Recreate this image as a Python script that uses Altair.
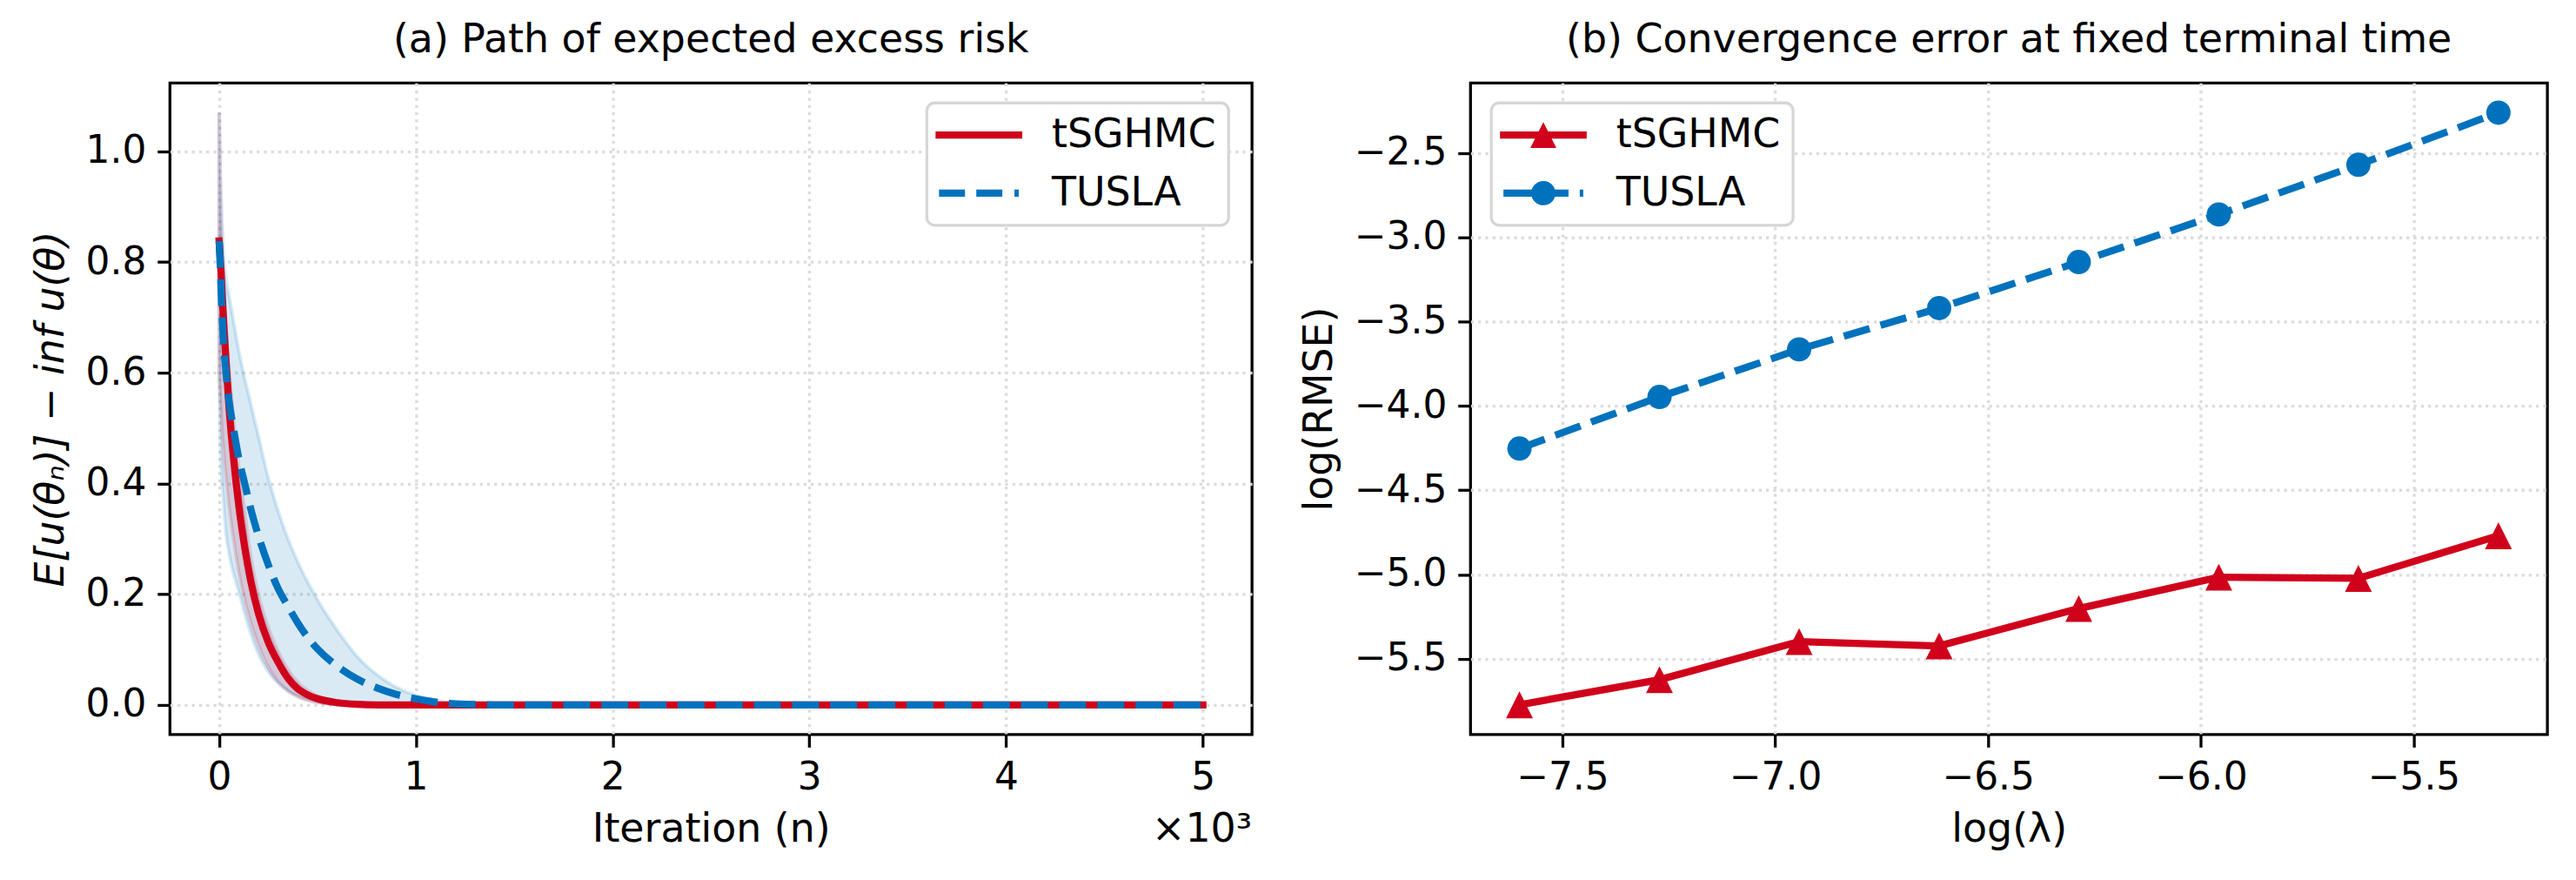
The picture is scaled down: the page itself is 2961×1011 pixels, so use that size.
import altair as alt
import pandas as pd

RED = "#D0021B"
BLUE = "#0072BD"
FONT = "DejaVu Sans"
SERIES = ["tSGHMC", "TUSLA"]

# ---------------- panel (a): path of expected excess risk ----------------
iters = [0, 5, 10, 20, 35, 50, 75, 100, 130, 160, 200, 250, 300, 350, 400, 450,
         500, 600, 700, 800, 900, 1000, 1100, 1200, 1400, 1700, 2000, 3000, 4000, 5000]

tsghmc_mean = [0.838, 0.81, 0.78, 0.71, 0.62, 0.54, 0.44, 0.36, 0.285, 0.225, 0.165, 0.113,
               0.077, 0.048, 0.029, 0.018, 0.011, 0.004, 0.001, 0.0, 0.0, 0.0, 0.0, 0.0,
               0.0, 0.0, 0.0, 0.0, 0.0, 0.0]
tsghmc_hi = [1.07, 0.95, 0.87, 0.78, 0.68, 0.61, 0.51, 0.43, 0.35, 0.27, 0.20, 0.14,
             0.097, 0.064, 0.041, 0.026, 0.016, 0.006, 0.002, 0.0, 0.0, 0.0, 0.0, 0.0,
             0.0, 0.0, 0.0, 0.0, 0.0, 0.0]
tsghmc_lo = [0.60, 0.56, 0.53, 0.47, 0.41, 0.36, 0.295, 0.24, 0.19, 0.15, 0.108, 0.068,
             0.042, 0.025, 0.014, 0.008, 0.004, 0.001, 0.0, 0.0, 0.0, 0.0, 0.0, 0.0,
             0.0, 0.0, 0.0, 0.0, 0.0, 0.0]

tusla_mean = [0.838, 0.80, 0.75, 0.67, 0.60, 0.55, 0.495, 0.445, 0.40, 0.355, 0.305, 0.253,
              0.21, 0.178, 0.148, 0.122, 0.101, 0.07, 0.047, 0.031, 0.019, 0.011, 0.005, 0.002,
              0.0, 0.0, 0.0, 0.0, 0.0, 0.0]
tusla_hi = [1.07, 0.98, 0.92, 0.83, 0.77, 0.74, 0.69, 0.64, 0.59, 0.545, 0.485, 0.41,
            0.35, 0.30, 0.258, 0.222, 0.19, 0.135, 0.088, 0.055, 0.032, 0.017, 0.008, 0.003,
            0.0, 0.0, 0.0, 0.0, 0.0, 0.0]
tusla_lo = [0.60, 0.50, 0.44, 0.38, 0.31, 0.275, 0.235, 0.205, 0.165, 0.13, 0.092, 0.06,
            0.039, 0.025, 0.016, 0.009, 0.005, 0.001, 0.0, 0.0, 0.0, 0.0, 0.0, 0.0,
            0.0, 0.0, 0.0, 0.0, 0.0, 0.0]

# ---------------- panel (b): convergence error ----------------
log_lambda = [-7.601, -7.272, -6.944, -6.615, -6.287, -5.958, -5.630, -5.301]
tsghmc_log_rmse = [-5.773, -5.624, -5.398, -5.424, -5.202, -5.016, -5.023, -4.770]
tusla_log_rmse = [-4.253, -3.947, -3.665, -3.420, -3.147, -2.865, -2.570, -2.261]

x_ticks_a = [0, 1000, 2000, 3000, 4000, 5000]
y_ticks_a = [0.0, 0.2, 0.4, 0.6, 0.8, 1.0]
x_ticks_b = [-7.5, -7.0, -6.5, -6.0, -5.5]
y_ticks_b = [-5.5, -5.0, -4.5, -4.0, -3.5, -3.0, -2.5]

df_a = pd.concat([
    pd.DataFrame({"n": iters, "mean": tsghmc_mean, "lo": tsghmc_lo, "hi": tsghmc_hi, "series": "tSGHMC"}),
    pd.DataFrame({"n": iters, "mean": tusla_mean, "lo": tusla_lo, "hi": tusla_hi, "series": "TUSLA"}),
], ignore_index=True)

df_b = pd.concat([
    pd.DataFrame({"loglam": log_lambda, "val": tsghmc_log_rmse, "series": "tSGHMC"}),
    pd.DataFrame({"loglam": log_lambda, "val": tusla_log_rmse, "series": "TUSLA"}),
], ignore_index=True)

legend_df = pd.DataFrame({"series": SERIES})
offset_df = pd.DataFrame({"label": ["×10³"]})

W_A, W_B, H = 1248, 1242, 751

# legend handle glyphs (unit = 23 px, symbol size 46^2)
LEG_SIZE = 2116
leg_path_red_line = "M-1.174,-0.18H3.174V0.18H-1.174Z"
leg_path_blue_dash = "M-1,-0.18H0.304V0.18H-1Z M0.87,-0.18H2.174V0.18H0.87Z M2.783,-0.18H3V0.18H2.783Z"
leg_path_red_tri = ("M-1.174,-0.18H3.174V0.18H-1.174Z "
                    "M1,-0.652L1.652,0.652L0.348,0.652Z")
leg_path_blue_circ = ("M-1,-0.18H0.45V0.18H-1Z M0.913,-0.18H2.261V0.18H0.913Z "
                      "M2.826,-0.18H3V0.18H2.826Z "
                      "M0.391,0A0.609,0.609 0 1,1 1.609,0A0.609,0.609 0 1,1 0.391,0Z")

TRI = "M0,-1L1,1L-1,1Z"


def legend_props(x, y):
    return alt.Legend(
        orient="none", legendX=x, legendY=y, title=None,
        labelFont=FONT, labelFontSize=46, labelColor="black", labelLimit=500,
        labelOffset=84, symbolSize=LEG_SIZE, symbolStrokeWidth=0,
        rowPadding=21, padding=14, fillColor="white", strokeColor="#d6d6d6",
        cornerRadius=9,
    )


def legend_layer(paths, x, y):
    lg = legend_props(x, y)
    return alt.Chart(legend_df).mark_point(filled=True, opacity=1, size=LEG_SIZE).encode(
        color=alt.Color("series:N", scale=alt.Scale(domain=SERIES, range=[RED, BLUE]), legend=lg),
        shape=alt.Shape("series:N", scale=alt.Scale(domain=SERIES, range=paths), legend=lg),
    ).transform_filter("false")


# ---- panel (a) ----
xa = alt.X("n:Q", scale=alt.Scale(domain=[-250, 5250], nice=False, zero=False),
           axis=alt.Axis(values=x_ticks_a, labelExpr="format(datum.value/1000, 'd')",
                         title="Iteration (n)"))


def ya(field):
    return alt.Y(f"{field}:Q", scale=alt.Scale(domain=[-0.0535, 1.1235], nice=False, zero=False),
                 axis=alt.Axis(values=y_ticks_a, format=".1f",
                               title="E[u(θₙ)] − inf u(θ)", titleFontStyle="italic"))


base_a = alt.Chart(df_a)


def band(name, color):
    return base_a.transform_filter(alt.datum.series == name).mark_area(
        color=color, fillOpacity=0.15, stroke=color, strokeOpacity=0.15, strokeWidth=4,
        interpolate="monotone"
    ).encode(x=xa, y=ya("lo"), y2="hi:Q")


line_red_a = base_a.transform_filter(alt.datum.series == "tSGHMC").mark_line(
    color=RED, strokeWidth=8.3, interpolate="monotone", strokeCap="square"
).encode(x=xa, y=ya("mean"))
line_blue_a = base_a.transform_filter(alt.datum.series == "TUSLA").mark_line(
    color=BLUE, strokeWidth=8.3, interpolate="monotone", strokeDash=[31, 13]
).encode(x=xa, y=ya("mean"))

offset_text = alt.Chart(offset_df).mark_text(
    align="right", baseline="middle", fontSize=46, font=FONT, color="black"
).encode(text="label:N", x=alt.value(W_A), y=alt.value(H + 110))

chart_a = alt.layer(
    band("tSGHMC", RED), band("TUSLA", BLUE), line_red_a, line_blue_a,
    legend_layer([leg_path_red_line, leg_path_blue_dash], 873, 23), offset_text,
).properties(
    width=W_A, height=H,
    title=alt.TitleParams("(a) Path of expected excess risk", font=FONT, fontSize=46,
                          fontWeight="normal", color="black", offset=25, anchor="middle"),
)

# ---- panel (b) ----
xb = alt.X("loglam:Q", scale=alt.Scale(domain=[-7.716, -5.186], nice=False, zero=False),
           axis=alt.Axis(values=x_ticks_b, format=".1f", title="log(λ)"))
yb = alt.Y("val:Q", scale=alt.Scale(domain=[-5.949, -2.085], nice=False, zero=False),
           axis=alt.Axis(values=y_ticks_b, format=".1f", title="log(RMSE)"))

base_b = alt.Chart(df_b)
red_b = base_b.transform_filter(alt.datum.series == "tSGHMC")
blue_b = base_b.transform_filter(alt.datum.series == "TUSLA")

chart_b = alt.layer(
    red_b.mark_line(color=RED, strokeWidth=8.3, strokeCap="square").encode(x=xb, y=yb),
    red_b.mark_point(filled=True, opacity=1, shape=TRI, size=961, color=RED).encode(x=xb, y=yb),
    blue_b.mark_line(color=BLUE, strokeWidth=8.3, strokeDash=[31, 13]).encode(x=xb, y=yb),
    blue_b.mark_point(filled=True, opacity=1, shape="circle", size=784, color=BLUE).encode(x=xb, y=yb),
    legend_layer([leg_path_red_tri, leg_path_blue_circ], 24, 23),
).properties(
    width=W_B, height=H,
    title=alt.TitleParams("(b) Convergence error at fixed terminal time", font=FONT, fontSize=46,
                          fontWeight="normal", color="black", offset=25, anchor="middle"),
)

chart = alt.hconcat(chart_a, chart_b, spacing=50).resolve_scale(
    color="independent", shape="independent"
).resolve_legend(
    color="independent", shape="independent"
).properties(
    padding={"left": 33, "top": 20, "right": 31, "bottom": 0},
    background="white",
).configure_view(
    stroke="black", strokeWidth=3.3
).configure_axis(
    domain=False, ticks=True, tickColor="black", tickWidth=3.3, tickSize=14.6,
    labelFont=FONT, labelFontSize=44, labelColor="black", labelPadding=13,
    titleFont=FONT, titleFontSize=46, titleFontWeight="normal", titleColor="black",
    titlePadding=16, grid=True, gridColor="#dcdcdc", gridDash=[3.3, 5], gridWidth=3.3,
).configure_legend(
    strokeWidth=3.3
)

chart.save("out.html", embed_options={"renderer": "svg", "actions": False})
